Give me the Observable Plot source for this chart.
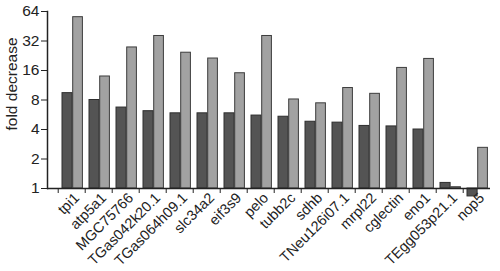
<!DOCTYPE html>
<html><head><meta charset="utf-8">
<script src="https://cdn.jsdelivr.net/npm/d3@7"></script>
<script src="https://cdn.jsdelivr.net/npm/@observablehq/plot@0.6"></script>
<style>body{margin:0;background:#fff}</style>
</head><body><div id="chart"></div>
<script>
const categories = ["tpi1","atp5a1","MGC75766","TGas042k20.1","TGas064h09.1","slc34a2","eif3s9","pelo","tubb2c","sdhb","TNeu126i07.1","mrpl22","cglectin","eno1","TEgg053p21.1","nop5"];
const darkValues = [9.4, 8.0, 6.7, 6.15, 5.85, 5.85, 5.85, 5.55, 5.4, 4.8, 4.7, 4.35, 4.3, 4.0, 1.14, 0.83];
const lightValues = [56, 13.9, 27.5, 36, 24.3, 21.2, 15.0, 36, 8.1, 7.4, 10.6, 9.25, 17, 21, 1.03, 2.6];
const yTicks = [1, 2, 4, 8, 16, 32, 64];
const yLabel = "fold decrease";

const dark = categories.map((c, i) => ({cat: c, v: darkValues[i]}));
const light = categories.map((c, i) => ({cat: c, v: lightValues[i]}));
const step = (494.4 - 53.3) / categories.length;

const chart = Plot.plot({
  width: 500, height: 271,
  marginTop: 11, marginBottom: 83, marginLeft: 47, marginRight: 10,
  style: {fontFamily: "'Liberation Sans', Arial, sans-serif", background: "#fff", color: "#222"},
  x: {domain: categories, range: [53.3, 494.4], padding: 0, axis: null},
  y: {type: "log", base: 2, domain: [1, 64], axis: null},
  marks: [
    Plot.barY(dark, {x: "cat", y1: 1, y2: "v", fill: "#545454", stroke: "#2e2e2e", strokeWidth: 1, insetLeft: 4, insetRight: 12.9}),
    Plot.barY(light, {x: "cat", y1: 1, y2: "v", fill: "#a2a2a2", stroke: "#3c3c3c", strokeWidth: 1, insetLeft: 14.7, insetRight: 2.6}),
    Plot.ruleY([1], {stroke: "#222", strokeWidth: 1.5}),
    Plot.frame({anchor: "left", stroke: "#222", strokeWidth: 1.5}),
    Plot.axisY({ticks: yTicks, tickFormat: d => String(d), tickSize: 6, tickPadding: 2, fontSize: 15.5, label: null, stroke: "#222", fill: "#222"}),
    Plot.axisY({ticks: [], tickSize: 0, label: yLabel, labelAnchor: "center", labelArrow: "none", labelOffset: 42, fontSize: 15.5, fill: "#222"}),
    Plot.axisX({tickSize: 5, tickFormat: () => "", label: null, dx: -step / 2, stroke: "#222"}),
    Plot.axisX({tickSize: 0, tickPadding: 7, tickRotate: -45, fontSize: 14.5, label: null, dx: 5, fill: "#222"})
  ]
});
const lab = chart.querySelector('[aria-label="y-axis label"]');
if (lab) lab.setAttribute("transform", "translate(0,-16) " + (lab.getAttribute("transform") || ""));
document.getElementById("chart").appendChild(chart);
</script>
</body></html>
